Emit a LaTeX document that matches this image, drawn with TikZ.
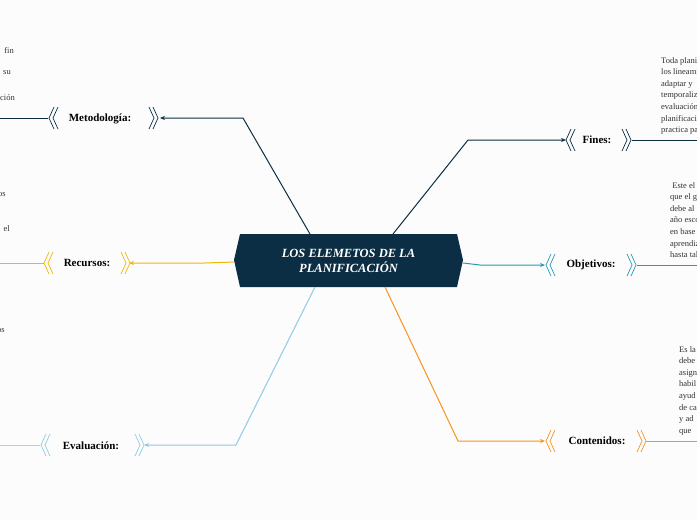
\documentclass[tikz,border=0pt]{standalone}
\usepackage{fontspec}
\setmainfont{Liberation Serif}
\usetikzlibrary{arrows.meta}
\definecolor{navy}{HTML}{0B2E44}
\definecolor{teal}{HTML}{2A9AB0}
\definecolor{yel}{HTML}{F2B705}
\definecolor{lblue}{HTML}{8ECAE6}
\definecolor{orng}{HTML}{F7931E}
\definecolor{txt}{HTML}{333333}
\tikzset{
 br/.style={line width=1pt},
 arr/.style={br,-{Stealth[length=5pt,width=4pt]}},
 lab/.style={font=\bfseries\fontsize{11}{13}\selectfont,text=black},
 body/.style={font=\fontsize{8.5}{11.6}\selectfont,text=txt,align=left,anchor=north west,inner sep=0},
 pics/chl/.style={code={\draw[line width=0.7pt] (5,-11)--(0,0)--(5,11) (9,-11)--(4,0)--(9,11);}},
 pics/chr/.style={code={\draw[line width=0.7pt] (-5,-11)--(0,0)--(-5,11) (-9,-11)--(-4,0)--(-9,11);}}
}
\begin{document}
\begin{tikzpicture}[x=1pt,y=-1pt]
\fill[white!98!gray] (0,0) rectangle (697,520);
\useasboundingbox (0,0) rectangle (697,520);
\clip (0,0) rectangle (697,520);
% central
\fill[navy] (240,234)--(457,234)--(463,260)--(457,287)--(240,287)--(234,260)--cycle;
\node[text=white,font=\bfseries\itshape\fontsize{12.5}{15}\selectfont,align=center] (c) at (348.5,260.5) {LOS ELEMETOS DE LA\\PLANIFICACIÓN};
% coordinates
\coordinate (cm) at (310,234); \coordinate (cf) at (393,234);
\coordinate (co) at (463,263); \coordinate (cr) at (234,262);
\coordinate (ce) at (315,287); \coordinate (cc) at (385,287);
% Metodologia
\node[lab] (m) at (100,119) {Metodología:};
\coordinate (m1) at (160,118); \coordinate (m0) at (0,118); \coordinate (m2) at (48,118);
\draw[arr,navy] (cm)--(243,118)--(m1);
\draw[br,navy] (m2)--(m0);
\pic[navy] at (49,118) {chl}; \pic[navy] at (158,118) {chr};
% Fines
\node[lab] (f) at (597,140) {Fines:};
\coordinate (f1) at (566,140); \coordinate (f2) at (632,140); \coordinate (f3) at (697,140);
\draw[arr,navy] (cf)--(468,140)--(f1);
\draw[br,navy] (f2)--(f3);
\pic[navy] at (566,140) {chl}; \pic[navy] at (631,140) {chr};
\node[body] (ft) at (661,57) {Toda planificación\\los lineamientos\\adaptar y\\temporalizar\\evaluación\\planificación\\practica para};
% Objetivos
\node[lab] (o) at (591,265) {Objetivos:};
\coordinate (o1) at (545,265); \coordinate (o2) at (637,265); \coordinate (o3) at (697,265);
\draw[arr,teal] (co)--(480,265)--(o1);
\draw[br,teal] (o2)--(o3);
\pic[teal] at (546,265) {chl}; \pic[teal] at (636,265) {chr};
\node[body] (ot) at (670,182) {\ Este el\\que el grupo\\debe al\\año escolar\\en base\\aprendizaje\\hasta tal};
% Recursos
\node[lab] (r) at (87,263) {Recursos:};
\coordinate (r1) at (129,263); \coordinate (r2) at (44,263); \coordinate (r0) at (0,263);
\draw[arr,yel] (cr)--(205,263)--(r1);
\draw[br,yel] (r2)--(r0);
\pic[yel] at (44,263) {chl}; \pic[yel] at (130,263) {chr};
% Evaluacion
\node[lab] (e) at (91,446) {Evaluación:};
\coordinate (e1) at (144,445); \coordinate (e2) at (40,445); \coordinate (e0) at (0,445);
\draw[arr,lblue] (ce)--(236,445)--(e1);
\draw[br,lblue!60!gray!60] (e2)--(e0);
\pic[lblue] at (41,445) {chl}; \pic[lblue] at (144,445) {chr};
% Contenidos
\node[lab] (k) at (597,441) {Contenidos:};
\coordinate (k1) at (545,441); \coordinate (k2) at (646,441); \coordinate (k3) at (697,441);
\draw[arr,orng] (cc)--(458,441)--(k1);
\draw[br,orng] (k2)--(k3);
\pic[orng] at (546,441) {chl}; \pic[orng] at (646,441) {chr};
\node[body] (kt) at (679,346) {Es la\\debe\\asign\\habil\\ayud\\de ca\\y ad\\que};
% left fragments
\node[body,anchor=north east] (l1) at (14,47) {fin};
\node[body,anchor=north east] (l2) at (11,70) {su};
\node[body,anchor=north east] (l3) at (15,94) {ción};
\node[body,anchor=north east] (l4) at (6,192) {os};
\node[body,anchor=north east] (l5) at (10,225) {el};
\node[body,anchor=north east] (l6) at (5,328) {os};
\end{tikzpicture}
\end{document}
